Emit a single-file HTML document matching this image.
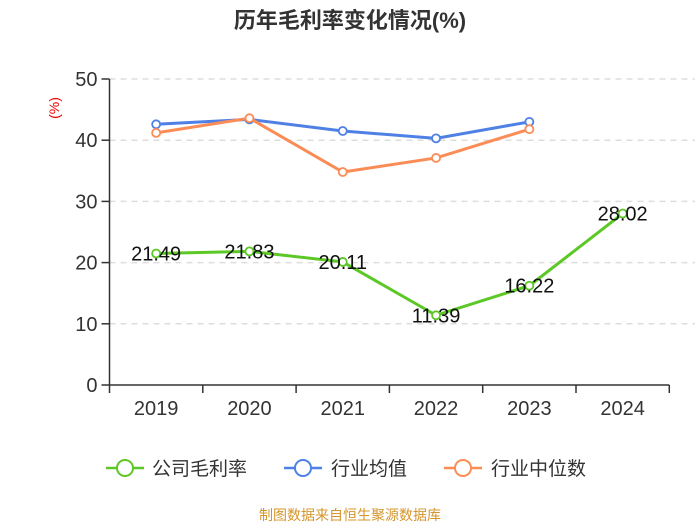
<!DOCTYPE html>
<html><head><meta charset="utf-8"><style>
body{margin:0;background:#fff;width:700px;height:525px;overflow:hidden;font-family:"Liberation Sans","Noto Sans CJK SC",sans-serif}
</style></head><body>
<svg width="700" height="525" xmlns="http://www.w3.org/2000/svg">
<text x="350" y="28" text-anchor="middle" font-size="22" font-weight="bold" fill="#333" font-family="Liberation Sans,Noto Sans CJK SC,sans-serif">历年毛利率变化情况(%)</text>
<text transform="translate(59,108) rotate(-90)" text-anchor="middle" font-size="14" fill="#e00">(%)</text>
<g id="grid"></g><g id="axes"></g><g id="series"></g>
<g font-size="19" fill="#333" font-family="Liberation Sans,Noto Sans CJK SC,sans-serif">
<g><line x1="106" y1="468" x2="144" y2="468" stroke="#5cc826" stroke-width="2.5"/><circle cx="125" cy="468" r="8" fill="#fff" stroke="#5cc826" stroke-width="2"/><text x="152" y="475">公司毛利率</text></g>
<g><line x1="284" y1="468" x2="322" y2="468" stroke="#4f80e6" stroke-width="2.5"/><circle cx="303" cy="468" r="8" fill="#fff" stroke="#4f80e6" stroke-width="2"/><text x="331" y="475">行业均值</text></g>
<g><line x1="444" y1="468" x2="482" y2="468" stroke="#fb8c55" stroke-width="2.5"/><circle cx="463" cy="468" r="8" fill="#fff" stroke="#fb8c55" stroke-width="2"/><text x="491" y="475">行业中位数</text></g>
</g>
<text x="350" y="520" text-anchor="middle" font-size="14" fill="#d4952b">制图数据来自恒生聚源数据库</text>
</svg>
<script>
const categories=["2019","2020","2021","2022","2023","2024"];
const company=[21.49,21.83,20.11,11.39,16.22,28.02];
const industryAvg=[42.6,43.4,41.5,40.3,43.0];
const industryMedian=[41.2,43.6,34.8,37.1,41.8];
const yTicks=[0,10,20,30,40,50];
const NS="http://www.w3.org/2000/svg";
const x0=109.5,bw=93.3,yBase=385,yTop=79,yMax=50;
const xs=i=>x0+bw*(i+0.5);
const ys=v=>yBase-(v/yMax)*(yBase-yTop);
function mk(t,a,p){const e=document.createElementNS(NS,t);for(const k in a)e.setAttribute(k,a[k]);p.appendChild(e);return e;}
const grid=document.getElementById('grid'),axes=document.getElementById('axes'),ser=document.getElementById('series');
yTicks.forEach(v=>{
 if(v>0){const g=mk('line',{x1:x0,x2:695,y1:ys(v),y2:ys(v),stroke:'#ddd','stroke-dasharray':'6,5','stroke-width':1.5},grid);
 
 }
 const t=mk('line',{x1:x0-8,x2:x0,y1:ys(v),y2:ys(v),stroke:'#333','stroke-width':1.5},axes);
 
 
 const l=mk('text',{x:x0-12,y:ys(v)+7,'text-anchor':'end','font-size':20,fill:'#333'},axes);l.textContent=v;
 
 
});
const ya=mk('line',{x1:x0,x2:x0,y1:yTop,y2:yBase,stroke:'#333','stroke-width':1.5},axes);


const xa=mk('line',{x1:x0,x2:x0+bw*6,y1:yBase,y2:yBase,stroke:'#333','stroke-width':1.5},axes);


for(let i=0;i<=6;i++){const t=mk('line',{x1:x0+bw*i,x2:x0+bw*i,y1:yBase,y2:yBase+8,stroke:'#333','stroke-width':1.5},axes);
 
 }
categories.forEach((c,i)=>{const l=mk('text',{x:xs(i),y:yBase+30,'text-anchor':'middle','font-size':20,fill:'#333'},axes);l.textContent=c;
 
 });
function series(vals,color,name,labels){
 const g=mk('g',{},ser);
 
 
 const pl=mk('polyline',{points:vals.map((v,i)=>xs(i)+','+ys(v)).join(' '),fill:'none',stroke:color,'stroke-width':3},g);
 
 
 vals.forEach((v,i)=>{const c=mk('circle',{cx:xs(i),cy:ys(v),r:4,fill:'#fff',stroke:color,'stroke-width':1.8},g);
  
  
  if(labels){const t=mk('text',{x:xs(i),y:ys(v)+7,'text-anchor':'middle','font-size':20,fill:'#111'},g);t.textContent=v.toFixed(2);
  
  }
 });
}
series(industryAvg,'#4f80e6','industry-avg',false);
series(industryMedian,'#fb8c55','industry-median',false);
series(company,'#5cc826','company-margin',true);
</script>
</body></html>
